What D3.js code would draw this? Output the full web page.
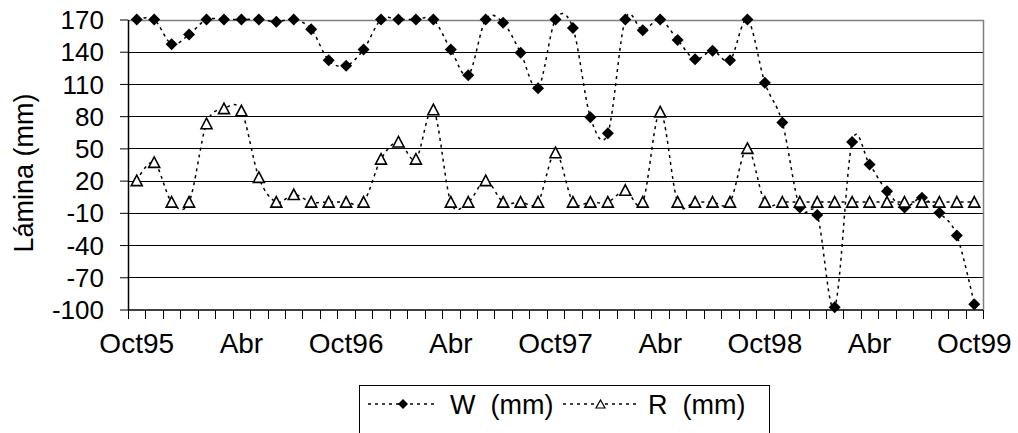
<!DOCTYPE html>
<html>
<head>
<meta charset="utf-8">
<script src="https://cdn.jsdelivr.net/npm/d3@7"></script>
<style>
  html, body { margin: 0; padding: 0; background: #fff; }
  svg { display: block; font-family: "Liberation Sans", Arial, sans-serif; }
</style>
</head>
<body>
<svg id="chart" width="1018" height="433"></svg>
<script>
// ---- data ----
const months = ["Oct95","Nov95","Dic95","Ene96","Feb96","Mar96","Abr96","May96","Jun96","Jul96","Ago96","Sep96",
  "Oct96","Nov96","Dic96","Ene97","Feb97","Mar97","Abr97","May97","Jun97","Jul97","Ago97","Sep97",
  "Oct97","Nov97","Dic97","Ene98","Feb98","Mar98","Abr98","May98","Jun98","Jul98","Ago98","Sep98",
  "Oct98","Nov98","Dic98","Ene99","Feb99","Mar99","Abr99","May99","Jun99","Jul99","Ago99","Sep99","Oct99"];
const W = [170,170,147,156,170,170,170,170,168,170,161,132,
  127,142,170,170,170,170,142,118,170,167,139,106,
  170,162,79,64,170,160,170,151,133,141,132,170,
  111,74,-5,-12,-98,56,35,10,-5,4,-10,-31,-95];
const R = [20,37,0,0,73,87,85,23,0,7,0,0,
  0,0,40,56,40,86,0,0,20,0,0,0,
  46,0,0,0,11,0,84,0,0,0,0,50,
  0,0,0,0,0,0,0,0,0,0,0,0,0];
const xTickLabels = {"Oct95":"Oct95","Abr96":"Abr","Oct96":"Oct96","Abr97":"Abr","Oct97":"Oct97","Abr98":"Abr","Oct98":"Oct98","Abr99":"Abr","Oct99":"Oct99"};
const yTicks = [170,140,110,80,50,20,-10,-40,-70,-100];
const seriesNames = ["W  (mm)", "R  (mm)"];

// ---- layout ----
(function () {
const svg = d3.select("#chart");
const pLeft = 128, pRight = 983, pTop = 19.5, pBottom = 309.5;
const FS_Y = 26, FS_X = 28, FS_T = 27, FS_L = 27;

const x = d3.scaleBand().domain(months).range([pLeft, pRight]).paddingInner(0).paddingOuter(0);
const y = d3.scaleLinear().domain([-100, 170]).range([pBottom, pTop]);
const cx = d => x(d) + x.bandwidth() / 2;

// gridlines
svg.append("g").selectAll("line").data(yTicks.filter(v => v > -100 && v < 170)).join("line")
  .attr("x1", pLeft).attr("x2", pRight)
  .attr("y1", d => Math.round(y(d)) + 0.5).attr("y2", d => Math.round(y(d)) + 0.5)
  .attr("stroke", "#000").attr("stroke-width", 1);

// plot border top/right
svg.append("path")
  .attr("d", `M${pLeft},${Math.round(pTop)+0.5}H${pRight+0.5}V${Math.round(pBottom)+0.5}`)
  .attr("fill", "none").attr("stroke", "#808080").attr("stroke-width", 1.5);

// y axis
const yAxis = d3.axisLeft(y).tickValues(yTicks).tickFormat(d => String(d))
  .tickSizeInner(8).tickSizeOuter(0).tickPadding(16);
const gy = svg.append("g").attr("transform", `translate(${pLeft},0)`).call(yAxis);
gy.select(".domain").attr("stroke", "#000").attr("stroke-width", 1.5);
gy.selectAll(".tick line").attr("stroke", "#000");
gy.selectAll(".tick text").attr("font-size", FS_Y).attr("fill", "#000")
  .attr("font-family", "Liberation Sans, Arial, sans-serif").attr("dy", "0.35em");

// x axis (ticks between categories)
const gx = svg.append("g").attr("transform", `translate(0,${Math.round(pBottom)})`);
gx.append("line").attr("x1", pLeft).attr("x2", pRight).attr("y1", 0).attr("y2", 0)
  .attr("stroke", "#000").attr("stroke-width", 1.5);
const boundaries = months.map(m => x(m)).concat([pRight]);
gx.selectAll("line.tk").data(boundaries).join("line").attr("class", "tk")
  .attr("x1", d => Math.round(d) + 0.5).attr("x2", d => Math.round(d) + 0.5)
  .attr("y1", 0).attr("y2", 9).attr("stroke", "#000").attr("stroke-width", 1);
gx.selectAll("text").data(months.filter(m => xTickLabels[m])).join("text")
  .attr("x", d => cx(d)).attr("y", 43)
  .attr("text-anchor", "middle").attr("font-size", FS_X).attr("fill", "#000")
  .text(d => xTickLabels[d]);

// y title
svg.append("text")
  .attr("transform", `translate(33,173) rotate(-90)`)
  .attr("text-anchor", "middle").attr("font-size", FS_T).attr("fill", "#000")
  .text("Lámina (mm)");

// series
const line = d3.line().x(d => d[0]).y(d => d[1]).curve(d3.curveCardinal.tension(0));
const dash = "3,4";

function drawSeries(vals, kind) {
  const pts = vals.map((v, i) => [cx(months[i]), y(v)]);
  svg.append("path").attr("d", line(pts)).attr("fill", "none")
    .attr("stroke", "#000").attr("stroke-width", 1.5).attr("stroke-dasharray", dash);
  const g = svg.append("g");
  if (kind === "W") {
    g.selectAll("path").data(pts).join("path")
      .attr("transform", d => `translate(${d[0]},${d[1]})`)
      .attr("d", "M0,-6L6,0L0,6L-6,0Z").attr("fill", "#000");
  } else {
    g.selectAll("path").data(pts).join("path")
      .attr("transform", d => `translate(${d[0]},${d[1]})`)
      .attr("d", "M0,-5.5L5.5,5L-5.5,5Z").attr("fill", "#fff")
      .attr("stroke", "#000").attr("stroke-width", 1.6);
  }
}
drawSeries(W, "W");
drawSeries(R, "R");

// legend
const lg = svg.append("g");
lg.append("rect").attr("x", 359.5).attr("y", 385.5).attr("width", 410).attr("height", 60)
  .attr("fill", "#fff").attr("stroke", "#000").attr("stroke-width", 1);
const ly = 404;
const items = [
  {x0: 368, x1: 438, tx: 450, kind: "W", name: seriesNames[0]},
  {x0: 563, x1: 638, tx: 648, kind: "R", name: seriesNames[1]}
];
items.forEach(it => {
  lg.append("line").attr("x1", it.x0).attr("x2", it.x1).attr("y1", ly).attr("y2", ly)
    .attr("stroke", "#000").attr("stroke-width", 1.5).attr("stroke-dasharray", dash);
  const mx = (it.x0 + it.x1) / 2;
  if (it.kind === "W") {
    lg.append("path").attr("transform", `translate(${mx},${ly})`)
      .attr("d", "M0,-5L5,0L0,5L-5,0Z").attr("fill", "#000");
  } else {
    lg.append("path").attr("transform", `translate(${mx},${ly})`)
      .attr("d", "M0,-4L4.5,4L-4.5,4Z").attr("fill", "#fff").attr("stroke", "#000").attr("stroke-width", 1.2);
  }
  lg.append("text").attr("x", it.tx).attr("y", ly + 9.5).attr("font-size", FS_L).attr("fill", "#000")
    .attr("xml:space", "preserve").style("white-space", "pre").text(it.name);
});
})();
</script>
</body>
</html>
